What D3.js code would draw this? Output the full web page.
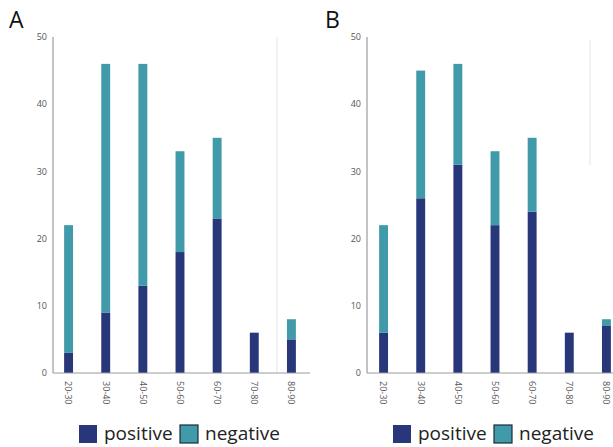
<!DOCTYPE html>
<html lang="en">
<head>
  <meta charset="UTF-8">
  <title>Age groups</title>
  <script src="https://d3js.org/d3.v7.min.js"></script>
  <style>
    body { margin: 0; background: #fff; }
    svg { font-family: "Open Sans", "DejaVu Sans", sans-serif; display: block; }
    .tick-label { font-size: 9px; fill: #555; }
    .legend-text { font-size: 19px; fill: #222; }
  </style>
</head>
<body>
  <div id="chart"></div>
  <script>
    // Data
    const ageGroups = ["20-30", "30-40", "40-50", "50-60", "60-70", "70-80", "80-90"];
    const positiveA = [3, 9, 13, 18, 23, 6, 5];
    const negativeA = [19, 37, 33, 15, 12, 0, 3];
    const positiveB = [6, 26, 31, 22, 24, 6, 7];
    const negativeB = [16, 19, 15, 11, 11, 0, 1];
    const yTicks = [0, 10, 20, 30, 40, 50];
    const seriesNames = ["positive", "negative"];

    const colors = { positive: "#28377a", negative: "#419aa9" };

    const width = 613, height = 447;
    const svg = d3.select("#chart").append("svg")
      .attr("width", width)
      .attr("height", height);

    const y = d3.scaleLinear().domain([0, 50]).range([373, 37]);

    // Draw one panel
    function drawPanel(opts) {
      const g = svg.append("g");
      const x = d3.scaleBand().domain(ageGroups)
        .range(opts.range).paddingInner(0.76).paddingOuter(0.38);

      // faint gridline artifact
      g.append("line")
        .attr("x1", opts.grid[0]).attr("x2", opts.grid[0])
        .attr("y1", opts.grid[1]).attr("y2", opts.grid[2])
        .attr("stroke", "#f2f2f2").attr("stroke-width", 2);

      const rows = ageGroups.map((k, i) => ({ group: k, positive: opts.pos[i], negative: opts.neg[i] }));
      const stacked = d3.stack().keys(seriesNames)(rows);

      g.selectAll(".series")
        .data(stacked)
        .join("g")
        .attr("fill", d => colors[d.key])
        .selectAll("rect")
        .data(d => d)
        .join("rect")
        .attr("x", d => x(d.data.group))
        .attr("width", x.bandwidth())
        .attr("y", d => y(d[1]))
        .attr("height", d => y(d[0]) - y(d[1]));

      // axes
      g.append("line")
        .attr("x1", opts.axisX).attr("x2", opts.axisX)
        .attr("y1", y(50)).attr("y2", y(0))
        .attr("stroke", "#9c9a9e").attr("stroke-width", 1.2);
      g.append("line")
        .attr("x1", opts.axisX).attr("x2", opts.axisEnd)
        .attr("y1", y(0)).attr("y2", y(0))
        .attr("stroke", "#9c9a9e").attr("stroke-width", 1.2);

      g.selectAll(".ytick")
        .data(yTicks)
        .join("text")
        .attr("class", "tick-label")
        .attr("x", opts.axisX - 6)
        .attr("y", d => y(d))
        .attr("dy", "0.35em")
        .attr("text-anchor", "end")
        .text(d => d);

      g.selectAll(".xtick")
        .data(ageGroups)
        .join("text")
        .attr("class", "tick-label")
        .attr("transform", d => `translate(${x(d) + x.bandwidth() / 2},${y(0) + 8}) rotate(90)`)
        .attr("dy", "0.35em")
        .attr("text-anchor", "start")
        .text(d => d);

      // panel letter
      g.append("text")
        .attr("x", opts.letterX).attr("y", 28)
        .attr("font-size", 23)
        .attr("fill", "#111")
        .text(opts.letter);

      // legend
      const lg = g.append("g").attr("transform", `translate(${opts.legendX},425)`);
      seriesNames.forEach((name, i) => {
        const ox = i * opts.legendStep;
        lg.append("rect")
          .attr("x", ox).attr("y", 0)
          .attr("width", 18).attr("height", 18)
          .attr("fill", colors[name])
          .attr("stroke", name === "negative" ? "#1d2a3a" : "none")
          .attr("stroke-width", 1.2);
        lg.append("text")
          .attr("class", "legend-text")
          .attr("x", ox + 25).attr("y", 15)
          .text(name);
      });
    }

    drawPanel({
      letter: "A", letterX: 9, range: [50, 310], axisX: 53, axisEnd: 310,
      pos: positiveA, neg: negativeA, grid: [277, 37, 373],
      legendX: 79, legendStep: 101
    });
    drawPanel({
      letter: "B", letterX: 325, range: [365, 625], axisX: 367, axisEnd: 613,
      pos: positiveB, neg: negativeB, grid: [590, 40, 165],
      legendX: 393, legendStep: 101
    });
  </script>
</body>
</html>
